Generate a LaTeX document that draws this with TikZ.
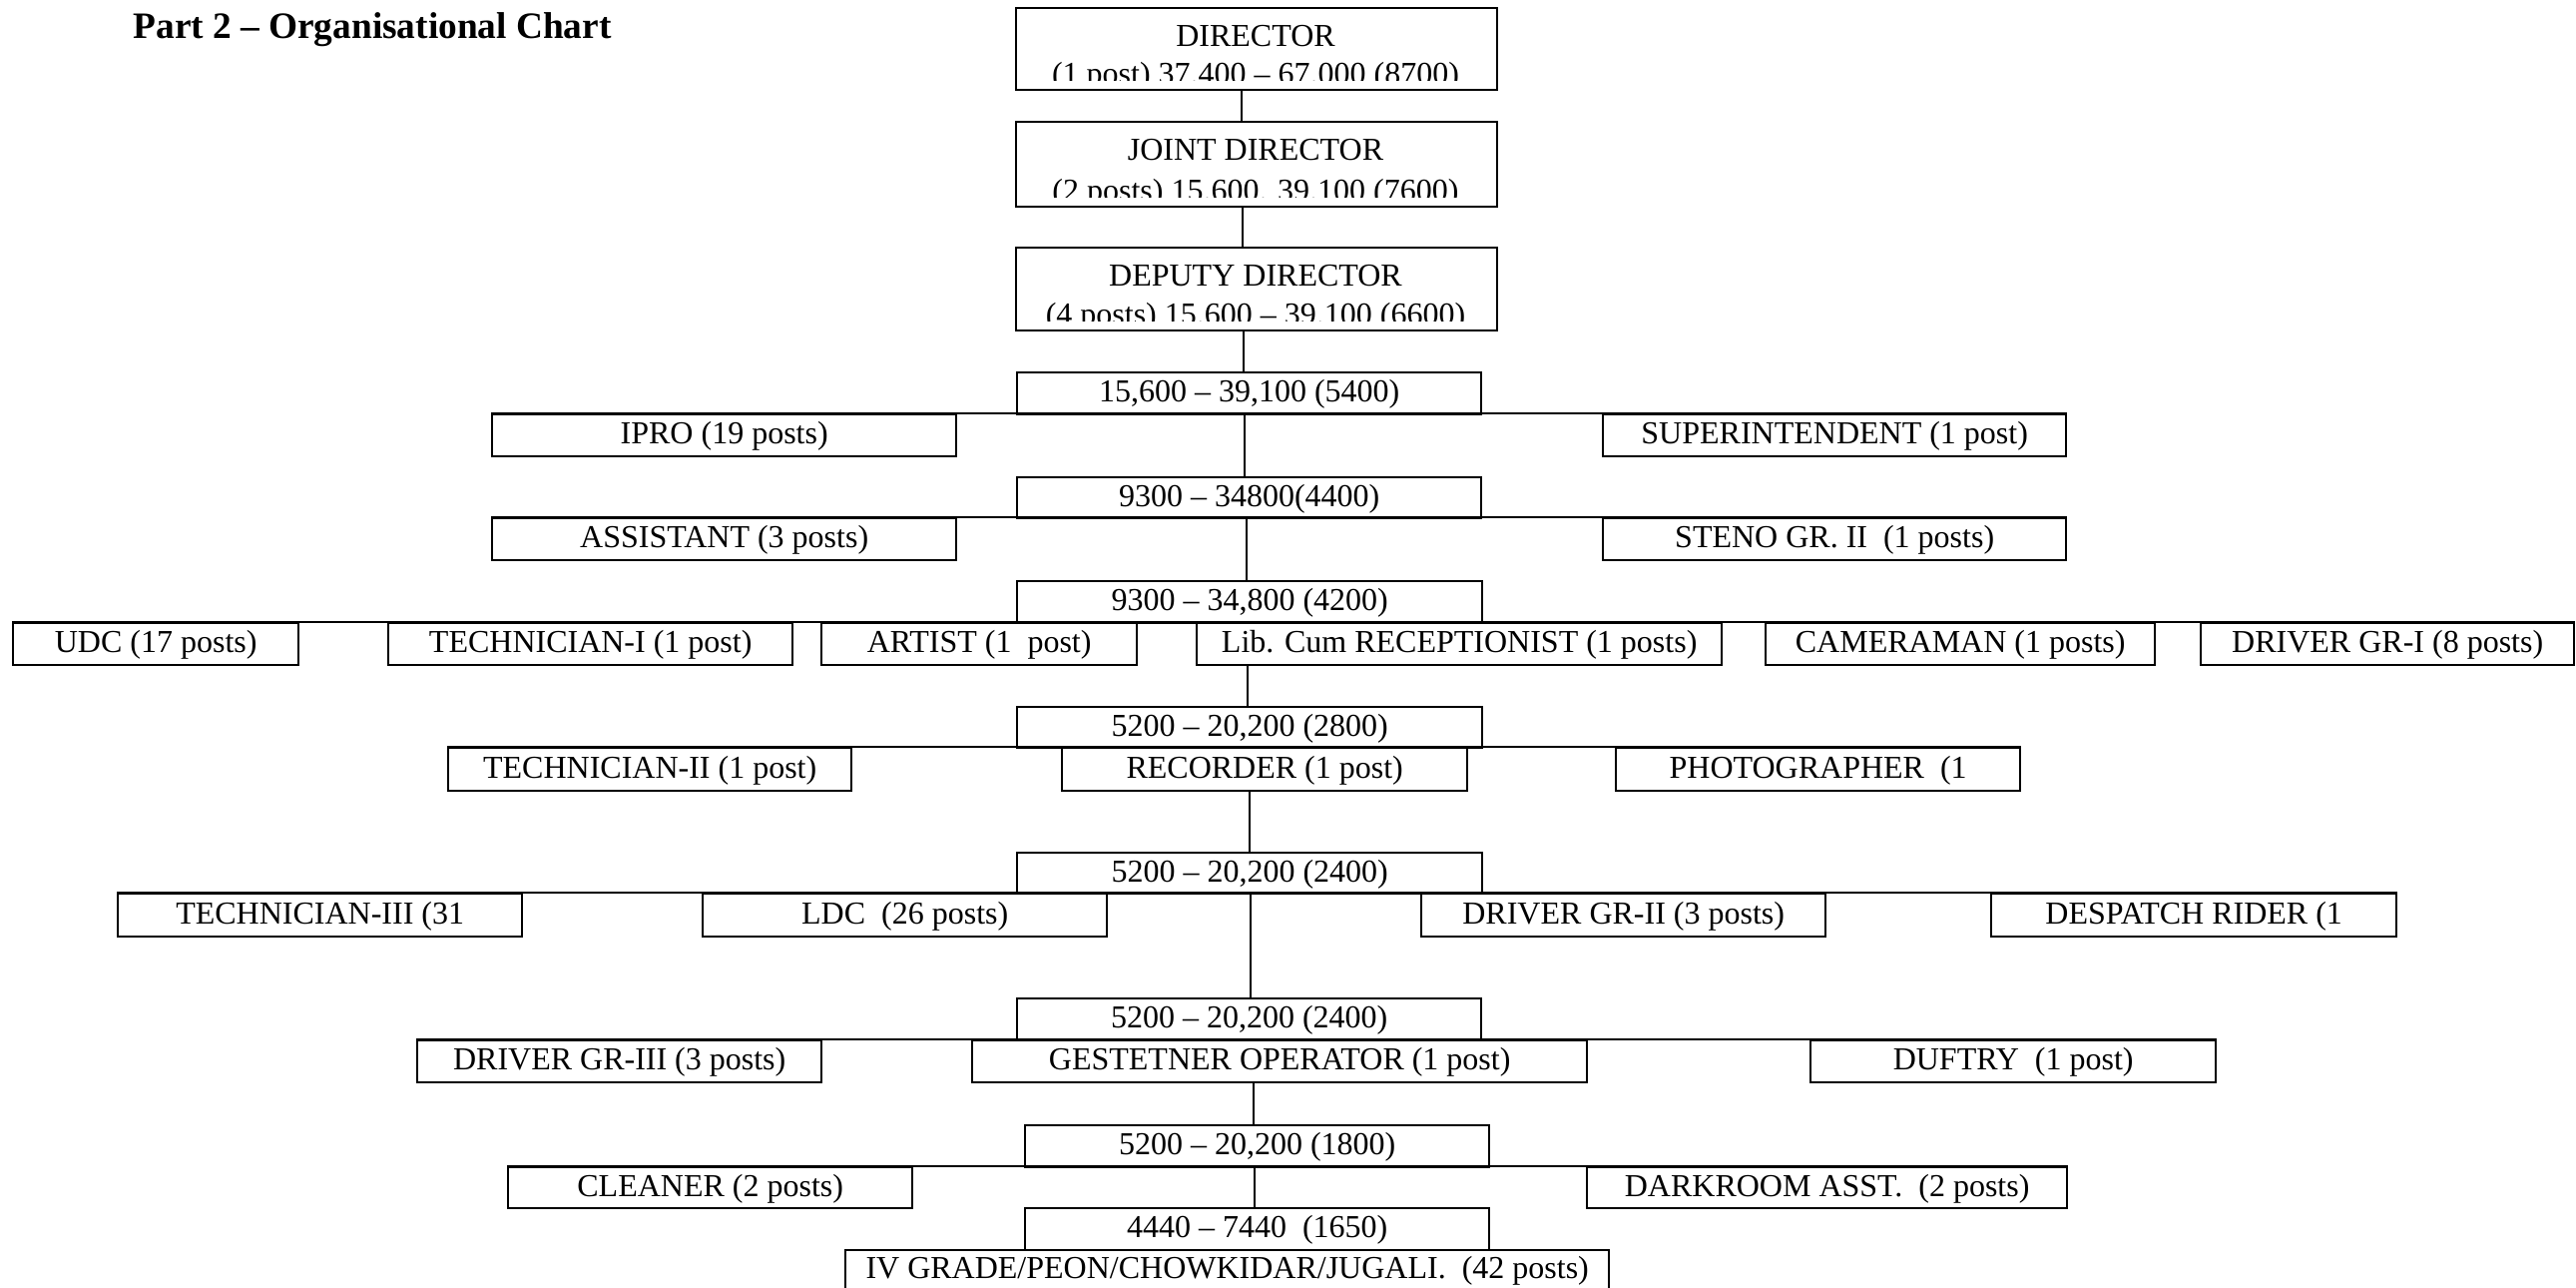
\documentclass[tikz,border=0pt]{standalone}
\usepackage{fontspec}
\setmainfont{Liberation Serif}
\usetikzlibrary{calc}

\tikzset{
  orgbox/.style={draw, line width=0.9pt, inner sep=0pt, anchor=north west,
    text height=0.69em, text depth=0.06em, font=\fontsize{12}{14}\selectfont},
  lbl/.style={inner sep=0pt, anchor=base, font=\fontsize{12}{14}\selectfont},
  bus/.style={line width=0.9pt},
  conn/.style={line width=0.6pt},
}
% box given by its top-left and bottom-right corners (units of the picture)
\newcommand\orgnode[6]{%
  \node[orgbox, minimum width={(#4-#2)*0.375pt}, minimum height={(#5-#3)*0.375pt}] (#1) at (#2,#3) {#6};}

\begin{document}
\begin{tikzpicture}[x=0.375pt, y=-0.375pt]
\useasboundingbox (0,0) rectangle (2581,1290);

\node[anchor=base west, inner sep=0pt, font=\fontsize{14}{17}\selectfont\bfseries] (title) at (133,39)
  {Part 2 – Organisational Chart};

% ---- top posts: two-line boxes, lower line cut by the box margin
\orgnode{dir}{1017}{7}{1499}{89}{}
\node[lbl] (dirA) at (1258,47) {DIRECTOR};
\begin{scope}
  \clip (1017,7) rectangle (1499,81);
  \node[lbl] (dirB) at (1258,85) {(1 post) 37.400 – 67.000 (8700)};
\end{scope}

\orgnode{jd}{1017}{121}{1499}{206}{}
\node[lbl] (jdA) at (1258,161) {JOINT DIRECTOR};
\begin{scope}
  \clip (1017,121) rectangle (1499,198);
  \node[lbl] (jdB) at (1258,202) {(2 posts) 15.600. 39.100 (7600)};
\end{scope}

\orgnode{dep}{1017}{247}{1499}{330}{}
\node[lbl] (depA) at (1258,287) {DEPUTY DIRECTOR};
\begin{scope}
  \clip (1017,247) rectangle (1499,322);
  \node[lbl] (depB) at (1258,326) {(4 posts) 15.600 – 39.100 (6600)};
\end{scope}

% ---- pay band 5400
\orgnode{pa}{1018}{372}{1483}{414}{15,600 – 39,100 (5400)}
\orgnode{ipro}{492}{414}{957}{456}{IPRO (19 posts)}
\orgnode{supt}{1605}{414}{2069}{456}{SUPERINTENDENT (1 post)}

% ---- pay band 4400
\orgnode{pb}{1018}{477}{1483}{518}{9300 – 34800(4400)}
\orgnode{asst}{492}{518}{957}{560}{ASSISTANT (3 posts)}
\orgnode{steno}{1605}{518}{2069}{560}{STENO GR. II\ \ (1 posts)}

% ---- pay band 4200
\orgnode{pc}{1018}{581}{1484}{623}{9300 – 34,800 (4200)}
\orgnode{udc}{12}{623}{298}{665}{UDC (17 posts)}
\orgnode{techa}{388}{623}{793}{665}{TECHNICIAN-I (1 post)}
\orgnode{artist}{822}{623}{1138}{665}{ARTIST (1\ \ post)}
\orgnode{lib}{1198}{623}{1724}{665}{Lib. Cum RECEPTIONIST (1 posts)}
\orgnode{cam}{1768}{623}{2158}{665}{CAMERAMAN (1 posts)}
\orgnode{drva}{2204}{623}{2578}{665}{DRIVER GR-I (8 posts)}

% ---- pay band 2800
\orgnode{pd}{1018}{707}{1484}{748}{5200 – 20,200 (2800)}
\orgnode{techb}{448}{748}{852}{791}{TECHNICIAN-II (1 post)}
\orgnode{rec}{1063}{748}{1469}{791}{RECORDER (1 post)}
\orgnode{photo}{1618}{748}{2023}{791}{PHOTOGRAPHER\ \ (1}

% ---- pay band 2400
\orgnode{pe}{1018}{853}{1484}{894}{5200 – 20,200 (2400)}
\orgnode{techc}{117}{894}{522}{937}{TECHNICIAN-III (31}
\orgnode{ldc}{703}{894}{1108}{937}{LDC\ \ (26 posts)}
\orgnode{drvb}{1423}{894}{1828}{937}{DRIVER GR-II (3 posts)}
\orgnode{desp}{1994}{894}{2400}{937}{DESPATCH RIDER (1}

% ---- pay band 2400 (second)
\orgnode{pf}{1018}{999}{1483}{1041}{5200 – 20,200 (2400)}
\orgnode{drvc}{417}{1041}{822}{1083}{DRIVER GR-III (3 posts)}
\orgnode{gest}{973}{1041}{1589}{1083}{GESTETNER OPERATOR (1 post)}
\orgnode{duftry}{1813}{1041}{2219}{1083}{DUFTRY\ \ (1 post)}

% ---- pay band 1800
\orgnode{pg}{1026}{1126}{1491}{1168}{5200 – 20,200 (1800)}
\orgnode{clean}{508}{1168}{913}{1209}{CLEANER (2 posts)}
\orgnode{dark}{1589}{1168}{2070}{1209}{DARKROOM ASST.\ \ (2 posts)}

% ---- pay band 1650
\orgnode{ph}{1026}{1209}{1491}{1251}{4440 – 7440\ \ (1650)}
\orgnode{peon}{846}{1251}{1611}{1290}{IV GRADE/PEON/CHOWKIDAR/JUGALI.\ \ (42 posts)}

% ---- horizontal buses under each pay band
\draw[bus] (ipro.north west) -- (supt.north east);
\draw[bus] (asst.north west) -- (steno.north east);
\draw[bus] (udc.north west) -- (drva.north east);
\draw[bus] (techb.north west) -- (photo.north east);
\draw[bus] (techc.north west) -- (desp.north east);
\draw[bus] (drvc.north west) -- (duftry.north east);
\draw[bus] (clean.north west) -- (dark.north east);

% ---- vertical links down the spine
\coordinate (s1) at (1244,0);
\coordinate (s2) at (1245,0);
\coordinate (s3) at (1246,0);
\coordinate (s4) at (1247,0);
\coordinate (s5) at (1249,0);
\coordinate (s6) at (1250,0);
\coordinate (s7) at (1252,0);
\coordinate (s8) at (1253,0);
\coordinate (s9) at (1256,0);
\coordinate (s10) at (1257,0);
\draw[conn] (dir.south -| s1) -- (jd.north -| s1);
\draw[conn] (jd.south -| s2) -- (dep.north -| s2);
\draw[conn] (dep.south -| s3) -- (pa.north -| s3);
\draw[conn] (pa.south -| s4) -- (pb.north -| s4);
\draw[conn] (pb.south -| s5) -- (pc.north -| s5);
\draw[conn] (lib.south -| s6) -- (pd.north -| s6);
\draw[conn] (rec.south -| s7) -- (pe.north -| s7);
\draw[conn] (pe.south -| s8) -- (pf.north -| s8);
\draw[conn] (gest.south -| s9) -- (pg.north -| s9);
\draw[conn] (pg.south -| s10) -- (ph.north -| s10);
\end{tikzpicture}
\end{document}
